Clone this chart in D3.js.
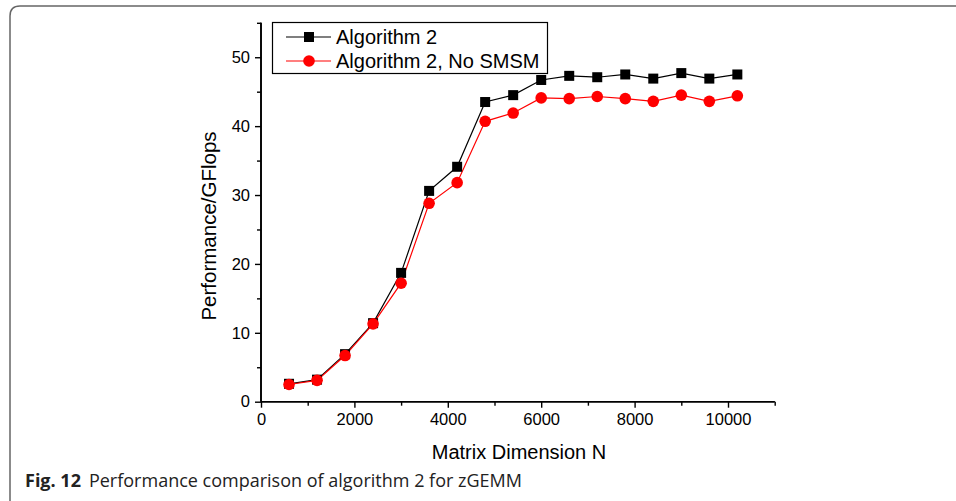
<!DOCTYPE html>
<html>
<head>
<meta charset="utf-8">
<script src="https://cdn.jsdelivr.net/npm/d3@7"></script>
<style>
  body { margin: 0; background: #fff; }
  svg { display: block; }
</style>
</head>
<body>
<svg id="chart" width="956" height="501"></svg>
<script>
; (function () {

    // matrix sizes N
    var sizes = [600, 1200, 1800, 2400, 3000, 3600, 4200, 4800, 5400, 6000, 6600, 7200, 7800, 8400, 9000, 9600, 10200]
    // GFlops, Algorithm 2
    var algo2 = [2.6, 3.2, 6.9, 11.4, 18.7, 30.6, 34.1, 43.5, 44.5, 46.7, 47.3, 47.1, 47.5, 46.9, 47.7, 46.9, 47.5]
    // GFlops, Algorithm 2 without SMSM
    var algo2NoSmsm = [2.5, 3.1, 6.7, 11.3, 17.2, 28.8, 31.8, 40.7, 41.9, 44.1, 44.0, 44.3, 44.0, 43.6, 44.5, 43.6, 44.4]

    var xTicks = [0, 2000, 4000, 6000, 8000, 10000]
    var xMinor = [1000, 3000, 5000, 7000, 9000, 11000]
    var yTicks = [0, 10, 20, 30, 40, 50]
    var yMinor = [5, 15, 25, 35, 45, 55]

    var seriesNames = ["Algorithm 2", "Algorithm 2, No SMSM"]

    var svg = d3.select("#chart")
    var font = "'Liberation Sans', Arial, sans-serif"

    // figure frame (rounded top-left, open at right and bottom)
    svg.append("path")
        .attr("d", "M10,501 L10,16 Q10,6 20,6 L956,6")
        .attr("fill", "none")
        .attr("stroke", "#666")
        .attr("stroke-width", 1.5)

    var x = d3.scaleLinear().domain([0, 11000]).range([261, 774.7])
    var y = d3.scaleLinear().domain([0, 55]).range([401.7, 22.8])

    // x axis
    var gx = svg.append("g").attr("transform", "translate(0," + y(0) + ")")
    gx.call(d3.axisBottom(x).tickValues(xTicks).tickSize(6).tickPadding(6).tickFormat(d3.format("d")))
    gx.append("g").call(d3.axisBottom(x).tickValues(xMinor).tickSize(4).tickFormat(""))
    gx.selectAll(".domain").attr("d", "M" + x(0) + ",0H" + x(11000)).attr("stroke-width", 1.6)

    // y axis
    var gy = svg.append("g").attr("transform", "translate(" + x(0) + ",0)")
    gy.call(d3.axisLeft(y).tickValues(yTicks).tickSize(6).tickPadding(5))
    gy.append("g").call(d3.axisLeft(y).tickValues(yMinor).tickSize(4).tickFormat(""))
    gy.selectAll(".domain").attr("d", "M0," + y(0) + "V" + y(55)).attr("stroke-width", 1.6)

    svg.selectAll(".tick line").attr("stroke", "#000").attr("stroke-width", 1.4)
    svg.selectAll(".tick text")
        .attr("font-family", font)
        .attr("font-size", 16.5)
        .attr("fill", "#000")

    // axis titles
    svg.append("text")
        .attr("x", 519).attr("y", 459)
        .attr("text-anchor", "middle")
        .attr("font-family", font).attr("font-size", 20)
        .text("Matrix Dimension N")

    svg.append("text")
        .attr("transform", "translate(216,226) rotate(-90)")
        .attr("text-anchor", "middle")
        .attr("font-family", font).attr("font-size", 20.5)
        .text("Performance/GFlops")

    // series
    var line = d3.line()
        .x(function (d, i) { return x(sizes[i]) })
        .y(function (d) { return y(d) })

    svg.append("path")
        .datum(algo2)
        .attr("d", line)
        .attr("fill", "none")
        .attr("stroke", "#000")
        .attr("stroke-width", 1.2)

    svg.append("path")
        .datum(algo2NoSmsm)
        .attr("d", line)
        .attr("fill", "none")
        .attr("stroke", "#ff0000")
        .attr("stroke-width", 1.2)

    svg.selectAll(".sq")
        .data(algo2)
        .enter().append("rect")
        .attr("class", "sq")
        .attr("x", function (d, i) { return x(sizes[i]) - 5 })
        .attr("y", function (d) { return y(d) - 5 })
        .attr("width", 10).attr("height", 10)
        .attr("fill", "#000")

    svg.selectAll(".dot")
        .data(algo2NoSmsm)
        .enter().append("circle")
        .attr("class", "dot")
        .attr("cx", function (d, i) { return x(sizes[i]) })
        .attr("cy", function (d) { return y(d) })
        .attr("r", 5.8)
        .attr("fill", "#ff0000")

    // legend
    var lg = svg.append("g")
    lg.append("rect")
        .attr("x", 272.5).attr("y", 22.5)
        .attr("width", 275).attr("height", 51)
        .attr("fill", "#fff").attr("stroke", "#000").attr("stroke-width", 1.2)

    seriesNames.forEach(function (name, i) {
        var cy = 37 + i * 24
        var col = i === 0 ? "#000" : "#ff0000"
        lg.append("line")
            .attr("x1", 286).attr("x2", 331).attr("y1", cy).attr("y2", cy)
            .attr("stroke", col).attr("stroke-width", 1.2)
        if (i === 0) {
            lg.append("rect").attr("x", 304).attr("y", cy - 5).attr("width", 10).attr("height", 10).attr("fill", col)
        } else {
            lg.append("circle").attr("cx", 309).attr("cy", cy).attr("r", 5.8).attr("fill", col)
        }
        lg.append("text")
            .attr("x", 336).attr("y", cy + 7)
            .attr("font-family", font).attr("font-size", 20)
            .text(name)
    })

    // caption
    var cap = svg.append("text")
        .attr("x", 25).attr("y", 487)
        .attr("font-family", "'Open Sans', 'Noto Sans', sans-serif")
        .attr("font-size", 18)
        .attr("fill", "#222")
    cap.append("tspan").attr("font-weight", "bold").text("Fig. 12")
    cap.append("tspan").attr("dx", 8).text("Performance comparison of algorithm 2 for zGEMM")

})();
</script>
</body>
</html>
